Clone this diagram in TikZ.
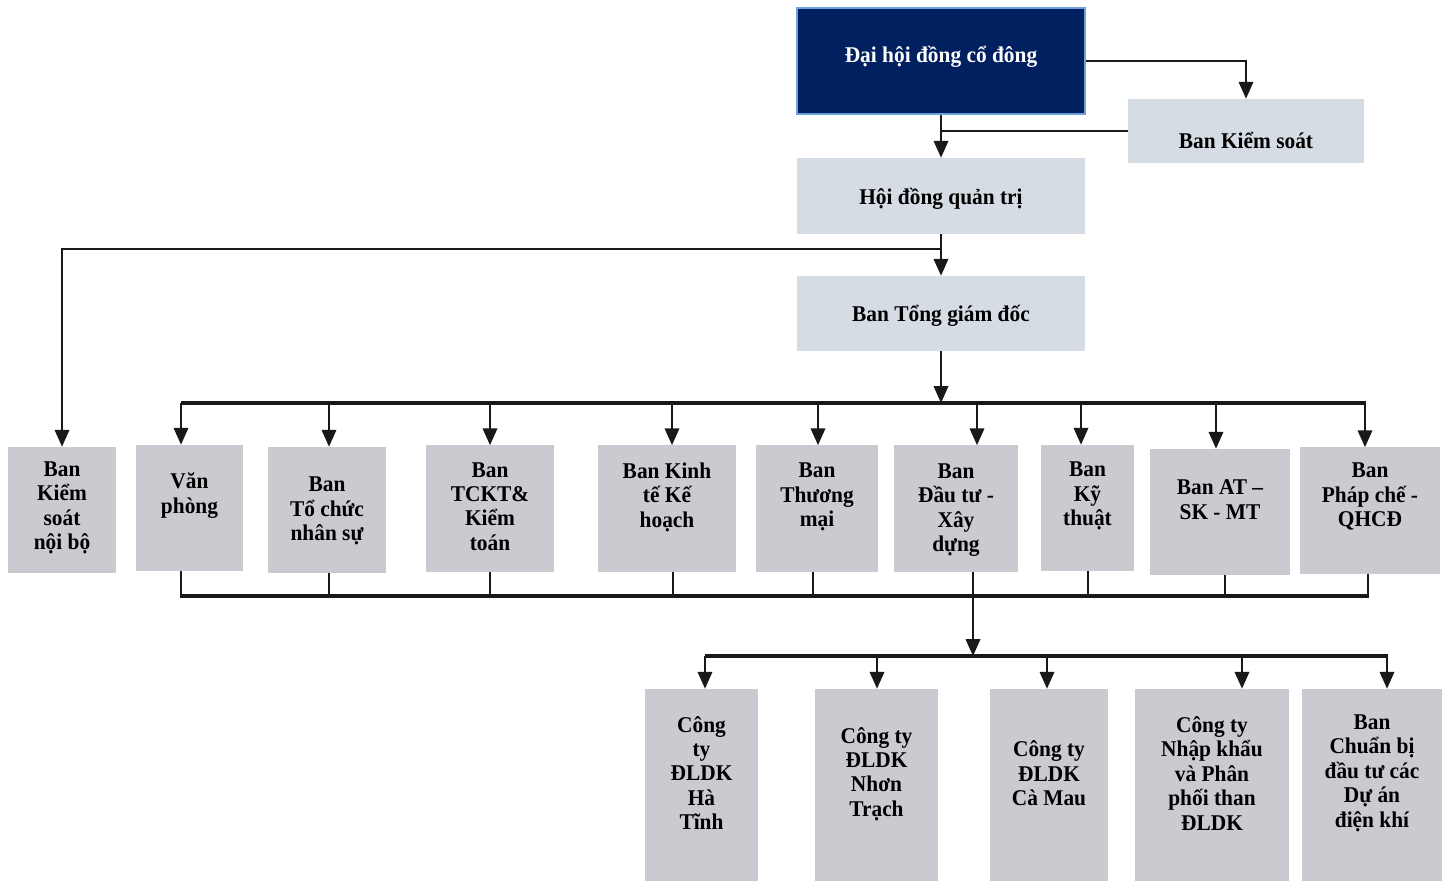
\documentclass[tikz,border=0pt]{standalone}
\usepackage{fontspec}
\setmainfont[FakeStretch=0.95]{Liberation Serif}
\usetikzlibrary{arrows.meta}
\usepackage{xcolor}
\definecolor{navyblue}{RGB}{0,32,96}
\definecolor{edgeblue}{RGB}{110,160,220}
\definecolor{lightbox}{RGB}{214,220,228}
\definecolor{graybox}{RGB}{202,203,208}

\begin{document}
\begin{tikzpicture}[
        x=0.025cm, y=-0.025cm,
        topbox/.style={rectangle, fill=lightbox, inner sep=0pt},
        gbox/.style={rectangle, fill=graybox, inner sep=0pt, minimum height=3.15cm},
        lowbox/.style={rectangle, fill=graybox, inner sep=0pt, minimum height=4.8cm},
        txt/.style={font=\bfseries\fontsize{16}{17.4}\selectfont, align=center, inner sep=0pt, text=black},
        conn/.style={line width=1.5pt, black!90},
        arr/.style={conn, -{Triangle[width=0.36cm, length=0.42cm]}},
        bus/.style={line width=2.8pt, black!90}
    ]
    \useasboundingbox (0,0) rectangle (1448,881);

    % DAI HOI DONG CO DONG
    \node[rectangle, fill=navyblue, draw=edgeblue, line width=1.5pt, minimum width=7.2cm, minimum height=2.65cm] (dhd) at (941,61) {};
    \node[txt, text=white] at (941,57) (dhd-t) {Đại hội đồng cổ đông};

    % BAN KIEM SOAT
    \node[topbox, minimum width=5.9cm, minimum height=1.6cm] (bks) at (1246,131) {};
    \node[txt] at (1246,140) (bks-t) {Ban Kiểm soát};

    % HOI DONG QUAN TRI
    \node[topbox, minimum width=7.2cm, minimum height=1.9cm] (hdqt) at (941,196) {};
    \node[txt] at (941,199) (hdqt-t) {Hội đồng quản trị};

    % BAN TONG GIAM DOC
    \node[topbox, minimum width=7.2cm, minimum height=1.875cm] (tgd) at (941,313.5) {};
    \node[txt] at (941,316) (tgd-t) {Ban Tổng giám đốc};

    % CAC BAN CHUC NANG
    \node[gbox, minimum width=2.7cm] (ksnb) at (62,510) {};
    \node[txt] at (62,508) (ksnb-t) {Ban\\Kiểm\\soát\\nội bộ};
    \node[gbox, minimum width=2.675cm] (vp) at (189.5,508) {};
    \node[txt] at (189.5,495.5) (vp-t) {Văn\\phòng};
    \node[gbox, minimum width=2.95cm] (tcns) at (327,510) {};
    \node[txt] at (327,511) (tcns-t) {Ban\\Tổ chức\\nhân sự};
    \node[gbox, minimum width=3.2cm] (tckt) at (490,508.5) {};
    \node[txt] at (490,506.5) (tckt-t) {Ban\\TCKT\&\\Kiểm\\toán};
    \node[gbox, minimum width=3.45cm] (ktkh) at (667,508.5) {};
    \node[txt] at (667,497) (ktkh-t) {Ban Kinh\\tế Kế\\hoạch};
    \node[gbox, minimum width=3.05cm] (tm) at (817,508.5) {};
    \node[txt] at (817,497) (tm-t) {Ban\\Thương\\mại};
    \node[gbox, minimum width=3.1cm] (dtxd) at (956,508.5) {};
    \node[txt] at (956,510) (dtxd-t) {Ban\\Đầu tư -\\Xây\\dựng};
    \node[gbox, minimum width=2.325cm] (kt) at (1087.5,508) {};
    \node[txt] at (1087.5,496) (kt-t) {Ban\\Kỹ\\thuật};
    \node[gbox, minimum width=3.5cm] (at) at (1220,512) {};
    \node[txt] at (1220,499.5) (at-t) {Ban AT –\\SK - MT};
    \node[gbox, minimum width=3.5cm] (pc) at (1370,510.5) {};
    \node[txt] at (1370,496.5) (pc-t) {Ban\\Pháp chế -\\QHCĐ};

    % DON VI TRUC THUOC
    \node[lowbox, minimum width=2.825cm] (ht) at (701.5,785) {};
    \node[txt] at (701.5,773) (ht-t) {Công\\ty\\ĐLDK\\Hà\\Tĩnh};
    \node[lowbox, minimum width=3.075cm] (nt) at (876.5,785) {};
    \node[txt] at (876.5,774) (nt-t) {Công ty\\ĐLDK\\Nhơn\\Trạch};
    \node[lowbox, minimum width=2.95cm] (cm) at (1049,785) {};
    \node[txt] at (1049,773.5) (cm-t) {Công ty\\ĐLDK\\Cà Mau};
    \node[lowbox, minimum width=3.85cm] (nk) at (1212,785) {};
    \node[txt] at (1212,773.5) (nk-t) {Công ty\\Nhập khẩu\\và Phân\\phối than\\ĐLDK};
    \node[lowbox, minimum width=3.5cm] (cb) at (1372,785) {};
    \node[txt] at (1372,773) (cb-t) {Ban\\Chuẩn bị\\đầu tư các\\Dự án\\điện khí};

    % Diem noi
    \coordinate (j1) at (941,249);
    \coordinate (bus1) at (941,403);
    \coordinate (bus2) at (973,596);
    \coordinate (bus3) at (973,656);

    % Flechas de conexion
    \draw[arr] (dhd.east) -| (bks.north);
    \draw[conn] (bks.west) -- (bks.west -| dhd.south);
    \draw[arr] (dhd) -- (hdqt);
    \draw[arr] (hdqt) -- (tgd);
    \draw[arr] (j1) -| (ksnb.north);
    \draw[arr] (tgd) -- (bus1);
    \draw[bus] (181,403) -- (1366,403);
    \foreach \x/\n in {181/vp, 329/tcns, 490/tckt, 672/ktkh, 818/tm, 977/dtxd, 1081/kt, 1216/at, 1365/pc}
        \draw[arr] (\x,403) -- (\x,403 |- \n.north);
    \foreach \x/\n in {181/vp, 329/tcns, 490/tckt, 673/ktkh, 813/tm, 973/dtxd, 1088/kt, 1225/at, 1368/pc}
        \draw[conn] (\x,596 |- \n.south) -- (\x,598);
    \draw[bus] (181,596) -- (1368,596);
    \draw[arr] (bus2) -- (bus3);
    \draw[bus] (705,656) -- (1388,656);
    \foreach \x/\n in {705/ht, 877/nt, 1047/cm, 1242/nk, 1387/cb}
        \draw[arr] (\x,656) -- (\x,656 |- \n.north);
    \end{tikzpicture}
\end{document}
